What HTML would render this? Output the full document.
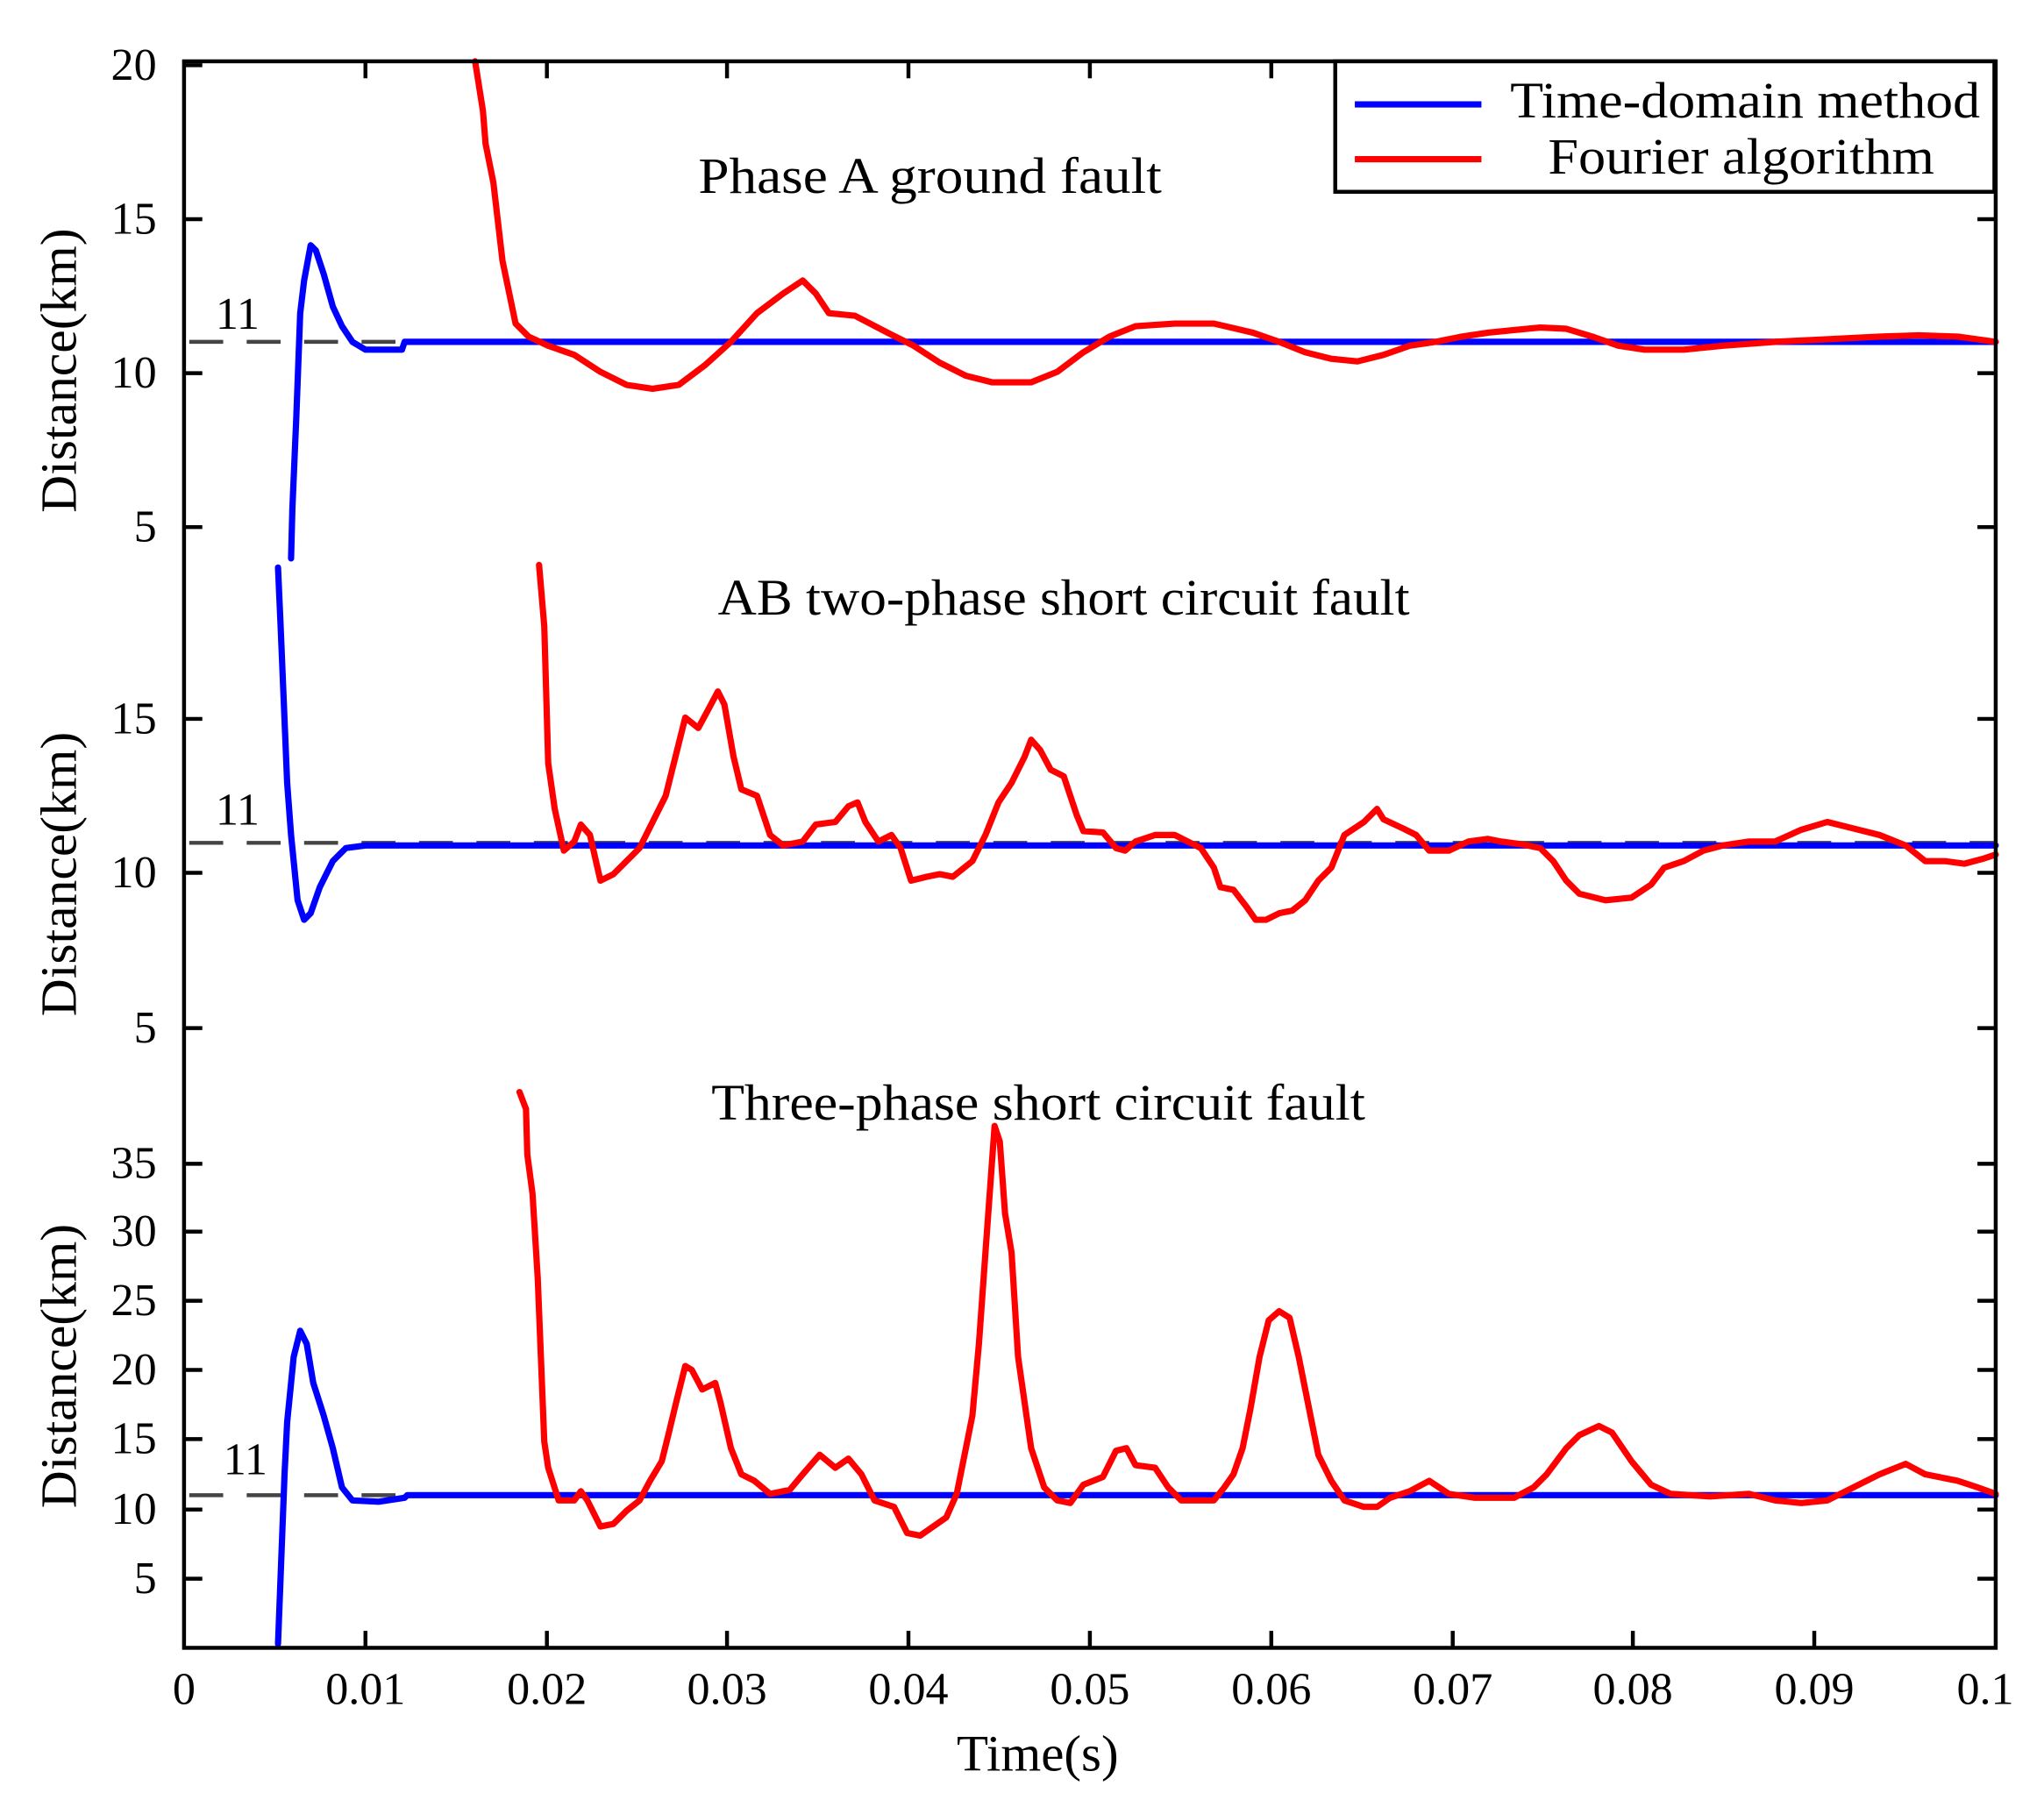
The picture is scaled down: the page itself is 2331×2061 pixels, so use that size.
<!DOCTYPE html>
<html><head><meta charset="utf-8"><style>
html,body{margin:0;padding:0;background:#fff;}
svg{display:block;}
text{font-family:"Liberation Serif",serif;fill:#000;}
</style></head><body>
<svg width="2331" height="2061" viewBox="0 0 1566 1385" preserveAspectRatio="none" xmlns="http://www.w3.org/2000/svg">
<rect width="1566" height="1385" fill="#fff"/>
<g stroke="#444" stroke-width="3" stroke-dasharray="26,18" fill="none">
<line x1="145" y1="262" x2="1529" y2="262"/>
<line x1="145" y1="646" x2="1529" y2="646"/>
<line x1="145" y1="1146" x2="1529" y2="1146"/>
</g>
<g font-size="35">
<text x="182" y="252" text-anchor="middle">11</text>
<text x="182" y="632" text-anchor="middle">11</text>
<text x="188" y="1130" text-anchor="middle">11</text>
</g>
<g fill="none" stroke-width="4.8" stroke-linejoin="round" stroke-linecap="round">
<polyline stroke="#0000ff" points="223,428 224,390 227,320 230,240 233,215 238,188 242,192 248,210 255,235 262,250 270,262 280,268 308,268 310,262 1529,262"/>
<polyline stroke="#ff0000" points="364,47 370,85 372,110 378,140 385,200 395,248 405,258 420,265 440,272 460,285 480,295 500,298 520,295 540,280 560,262 580,240 600,225 615,215 625,225 635,240 655,242 680,255 700,265 720,278 740,288 760,293 790,293 810,285 830,270 850,258 870,250 900,248 930,248 960,255 980,262 1000,270 1020,275 1040,277 1060,272 1080,265 1100,262 1120,258 1140,255 1160,253 1180,251 1200,252 1220,258 1240,265 1260,268 1290,268 1320,265 1360,262 1400,260 1440,258 1470,257 1500,258 1529,262"/>
<polyline stroke="#0000ff" points="213,435 215,480 220,600 223,640 228,690 233,705 238,700 245,680 255,660 265,650 280,648 1529,648"/>
<polyline stroke="#ff0000" points="413,433 417,480 420,585 425,620 432,652 440,645 445,632 452,640 460,675 470,670 480,660 490,650 500,630 510,610 515,590 525,550 535,558 542,545 550,530 555,540 562,580 568,605 580,610 590,640 600,648 615,645 625,632 640,630 650,618 657,615 663,630 673,645 683,640 690,650 698,675 710,672 720,670 730,672 745,660 755,640 765,615 775,600 785,580 790,567 797,575 805,590 815,595 825,625 830,637 845,638 855,650 862,652 870,645 885,640 900,640 910,645 920,650 930,665 935,680 945,682 955,695 962,705 970,705 980,700 990,698 1000,690 1010,675 1020,665 1030,640 1045,630 1055,620 1060,628 1075,635 1085,640 1095,652 1110,652 1125,645 1140,643 1150,645 1165,647 1180,650 1190,660 1200,675 1210,685 1230,690 1250,688 1265,678 1275,665 1290,660 1305,652 1320,648 1340,645 1360,645 1380,636 1400,630 1420,635 1440,640 1460,648 1475,660 1490,660 1505,662 1520,658 1529,655"/>
<polyline stroke="#0000ff" points="213,1260 218,1130 220,1090 225,1040 230,1020 235,1030 240,1060 248,1085 255,1110 262,1140 270,1150 290,1151 310,1148 312,1146 1529,1146"/>
<polyline stroke="#ff0000" points="398,837 403,850 404,885 408,915 412,980 417,1105 420,1125 428,1150 440,1150 445,1143 450,1150 460,1170 470,1168 480,1158 490,1150 498,1135 507,1120 512,1100 518,1075 525,1047 530,1050 538,1065 548,1060 552,1075 560,1110 568,1130 578,1135 590,1145 605,1142 615,1130 628,1115 640,1125 650,1118 660,1130 670,1150 685,1155 695,1175 705,1177 715,1170 725,1163 733,1145 740,1110 745,1085 750,1030 755,960 762,863 766,875 770,930 775,960 780,1040 790,1110 800,1140 810,1150 820,1152 830,1138 845,1132 855,1112 863,1110 870,1123 885,1125 895,1140 905,1150 930,1150 938,1140 945,1130 952,1110 958,1080 965,1040 972,1012 980,1005 988,1010 995,1040 1003,1080 1010,1115 1020,1135 1030,1150 1045,1155 1055,1155 1065,1148 1080,1143 1095,1135 1110,1145 1130,1148 1160,1148 1175,1140 1185,1130 1200,1110 1210,1100 1225,1093 1235,1098 1250,1120 1265,1138 1280,1145 1310,1147 1340,1145 1360,1150 1380,1152 1400,1150 1420,1140 1440,1130 1460,1122 1475,1130 1500,1135 1515,1140 1529,1145"/>
</g>
<rect x="141" y="47" width="1388" height="1216" fill="none" stroke="#000" stroke-width="3"/>
<g stroke="#000" stroke-width="3">
<line x1="141" y1="50" x2="155" y2="50"/><line x1="141" y1="168" x2="155" y2="168"/><line x1="141" y1="286" x2="155" y2="286"/><line x1="141" y1="404" x2="155" y2="404"/>
<line x1="141" y1="551" x2="155" y2="551"/><line x1="141" y1="669" x2="155" y2="669"/><line x1="141" y1="788" x2="155" y2="788"/>
<line x1="141" y1="892" x2="155" y2="892"/><line x1="141" y1="944" x2="155" y2="944"/><line x1="141" y1="997" x2="155" y2="997"/><line x1="141" y1="1050" x2="155" y2="1050"/><line x1="141" y1="1103" x2="155" y2="1103"/><line x1="141" y1="1157" x2="155" y2="1157"/><line x1="141" y1="1210" x2="155" y2="1210"/>
<line x1="1529" y1="168" x2="1515" y2="168"/><line x1="1529" y1="286" x2="1515" y2="286"/><line x1="1529" y1="404" x2="1515" y2="404"/>
<line x1="1529" y1="551" x2="1515" y2="551"/><line x1="1529" y1="669" x2="1515" y2="669"/><line x1="1529" y1="788" x2="1515" y2="788"/>
<line x1="1529" y1="892" x2="1515" y2="892"/><line x1="1529" y1="944" x2="1515" y2="944"/><line x1="1529" y1="997" x2="1515" y2="997"/><line x1="1529" y1="1050" x2="1515" y2="1050"/><line x1="1529" y1="1103" x2="1515" y2="1103"/><line x1="1529" y1="1157" x2="1515" y2="1157"/><line x1="1529" y1="1210" x2="1515" y2="1210"/>
<line x1="280" y1="1263" x2="280" y2="1250"/><line x1="419" y1="1263" x2="419" y2="1250"/><line x1="557" y1="1263" x2="557" y2="1250"/><line x1="696" y1="1263" x2="696" y2="1250"/><line x1="835" y1="1263" x2="835" y2="1250"/><line x1="974" y1="1263" x2="974" y2="1250"/><line x1="1113" y1="1263" x2="1113" y2="1250"/><line x1="1251" y1="1263" x2="1251" y2="1250"/><line x1="1390" y1="1263" x2="1390" y2="1250"/>
<line x1="280" y1="47" x2="280" y2="60"/><line x1="419" y1="47" x2="419" y2="60"/><line x1="557" y1="47" x2="557" y2="60"/><line x1="696" y1="47" x2="696" y2="60"/><line x1="835" y1="47" x2="835" y2="60"/><line x1="974" y1="47" x2="974" y2="60"/><line x1="1113" y1="47" x2="1113" y2="60"/><line x1="1251" y1="47" x2="1251" y2="60"/><line x1="1390" y1="47" x2="1390" y2="60"/>
</g>
<g font-size="35" text-anchor="end">
<text x="120" y="61">20</text><text x="120" y="179">15</text><text x="120" y="297">10</text><text x="120" y="415">5</text>
<text x="120" y="562">15</text><text x="120" y="680">10</text><text x="120" y="799">5</text>
<text x="120" y="903">35</text><text x="120" y="955">30</text><text x="120" y="1008">25</text><text x="120" y="1061">20</text><text x="120" y="1114">15</text><text x="120" y="1168">10</text><text x="120" y="1221">5</text>
</g>
<g font-size="35" text-anchor="middle">
<text x="141" y="1306">0</text><text x="280" y="1306">0.01</text><text x="419" y="1306">0.02</text><text x="557" y="1306">0.03</text><text x="696" y="1306">0.04</text><text x="835" y="1306">0.05</text><text x="974" y="1306">0.06</text><text x="1113" y="1306">0.07</text><text x="1251" y="1306">0.08</text><text x="1390" y="1306">0.09</text><text x="1521" y="1306">0.1</text>
</g>
<g font-size="39">
<text x="733" y="1357" textLength="124" lengthAdjust="spacingAndGlyphs">Time(s)</text>
<text x="535" y="148" textLength="355" lengthAdjust="spacingAndGlyphs">Phase A ground fault</text>
<text x="550" y="471" textLength="530" lengthAdjust="spacingAndGlyphs">AB two-phase short circuit fault</text>
<text x="545" y="858" textLength="501" lengthAdjust="spacingAndGlyphs">Three-phase short circuit fault</text>
<text transform="translate(58,393) rotate(-90)" textLength="218" lengthAdjust="spacingAndGlyphs">Distance(km)</text>
<text transform="translate(58,779) rotate(-90)" textLength="218" lengthAdjust="spacingAndGlyphs">Distance(km)</text>
<text transform="translate(58,1156) rotate(-90)" textLength="218" lengthAdjust="spacingAndGlyphs">Distance(km)</text>
</g>
<rect x="1023" y="47" width="505" height="100" fill="#fff" stroke="#000" stroke-width="3"/>
<line x1="1038" y1="80" x2="1135" y2="80" stroke="#0000ff" stroke-width="4.8"/>
<line x1="1038" y1="122" x2="1135" y2="122" stroke="#ff0000" stroke-width="4.8"/>
<text x="1157" y="90" font-size="39" textLength="360" lengthAdjust="spacingAndGlyphs">Time-domain method</text>
<text x="1186" y="133" font-size="39" textLength="296" lengthAdjust="spacingAndGlyphs">Fourier algorithm</text>
</svg>
</body></html>
